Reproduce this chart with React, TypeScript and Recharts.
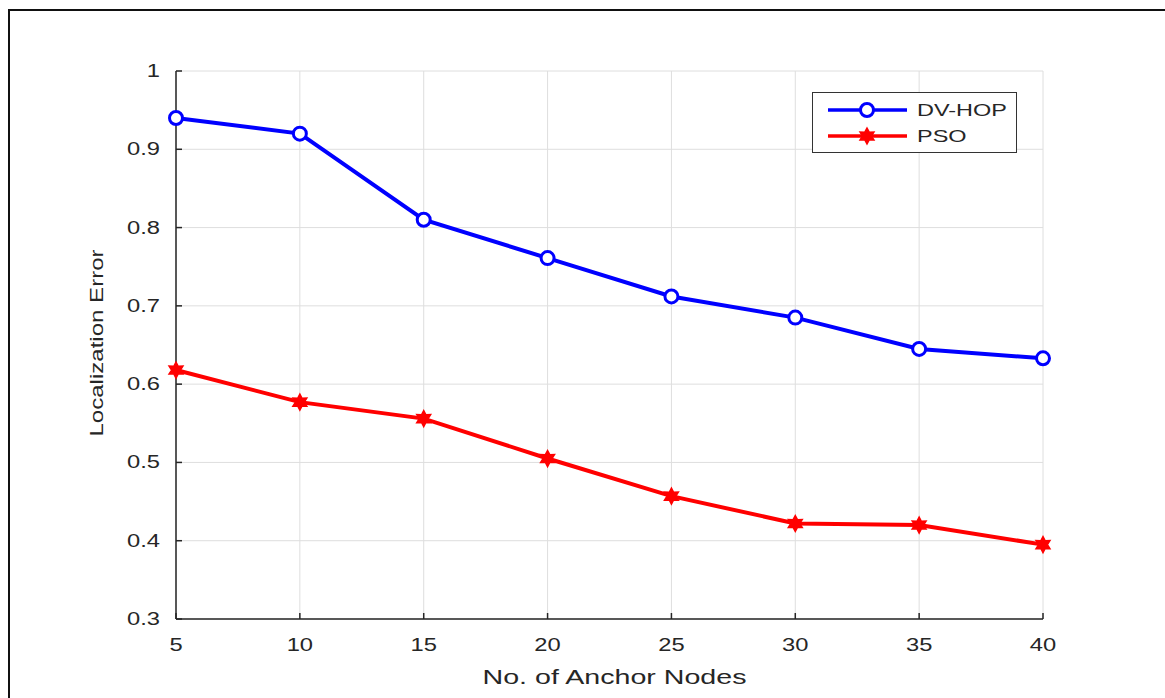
import { CartesianGrid, Label, Line, LineChart, XAxis, YAxis } from 'recharts'

const ANCHOR_NODES = [5, 10, 15, 20, 25, 30, 35, 40]
const DV_HOP = [0.94, 0.92, 0.81, 0.761, 0.712, 0.685, 0.645, 0.633]
const PSO = [0.618, 0.577, 0.556, 0.505, 0.457, 0.422, 0.42, 0.395]
const X_TICKS = [5, 10, 15, 20, 25, 30, 35, 40]
const Y_TICKS = [0.3, 0.4, 0.5, 0.6, 0.7, 0.8, 0.9, 1]

const data = ANCHOR_NODES.map((n, i) => ({ nodes: n, dvhop: DV_HOP[i], pso: PSO[i] }))

const FONT = '"Liberation Sans", Arial, sans-serif'
const TEXT = '#262626'
const STRETCH = 1.32

function hexagram(cx: number, cy: number, r: number) {
  const pts: string[] = []
  for (let i = 0; i < 12; i++) {
    const a = (Math.PI / 6) * i - Math.PI / 2
    const rr = i % 2 === 0 ? r : r * 0.55
    pts.push(`${cx + rr * Math.cos(a)},${cy + rr * Math.sin(a)}`)
  }
  return pts.join(' ')
}

const CircleDot = (props: any) => {
  const { cx, cy } = props
  if (cx == null || cy == null) return null
  return <circle key={`c${cx}`} cx={cx} cy={cy} r={6.5} fill="#fff" stroke="#0000ff" strokeWidth={3} />
}

const StarDot = (props: any) => {
  const { cx, cy } = props
  if (cx == null || cy == null) return null
  return <polygon key={`s${cx}`} points={hexagram(cx, cy, 8)} fill="#ff0000" stroke="#ff0000" strokeWidth={1.5} />
}

const YTick = (props: any) => {
  const { x, y, payload } = props
  const v = payload.value
  const txt = v === 1 ? '1' : v.toFixed(1)
  return (
    <g transform={`translate(${x},${y})`}>
      <text transform={`scale(${STRETCH},1)`} textAnchor="end" dy={6} fontSize={18} fill={TEXT} fontFamily={FONT}>
        {txt}
      </text>
    </g>
  )
}

const XTick = (props: any) => {
  const { x, y, payload } = props
  return (
    <g transform={`translate(${x},${y})`}>
      <text transform={`scale(${STRETCH},1)`} textAnchor="middle" dy={16} fontSize={18} fill={TEXT} fontFamily={FONT}>
        {payload.value}
      </text>
    </g>
  )
}

const XLabel = (props: any) => {
  const vb = props.viewBox || { x: 176, y: 619, width: 867 }
  const cx = vb.x + vb.width / 2 + 5
  return (
    <text x={cx} y={684} textAnchor="middle" fontSize={21} fill={TEXT} fontFamily={FONT} textLength={264} lengthAdjust="spacingAndGlyphs">
      No. of Anchor Nodes
    </text>
  )
}

const YLabel = () => {
  return (
    <text
      x={0}
      y={0}
      transform="translate(103,343) rotate(-90)"
      textAnchor="middle"
      fontSize={19}
      fill={TEXT}
      fontFamily={FONT}
      textLength={187}
      lengthAdjust="spacingAndGlyphs"
    >
      Localization Error
    </text>
  )
}

const LegendBox = () => {
  const rows = [
    { name: 'DV-HOP', color: '#0000ff', star: false },
    { name: 'PSO', color: '#ff0000', star: true },
  ]
  return (
    <div
      style={{
        position: 'absolute',
        left: 812,
        top: 92,
        width: 205,
        height: 61,
        border: '1px solid #333',
        background: '#fff',
        boxSizing: 'border-box',
      }}
    >
      <svg width={203} height={59} style={{ position: 'absolute', left: 0, top: 0 }}>
        {rows.map((r, i) => {
          const cy = 17 + i * 26
          return (
            <g key={r.name}>
              <line x1={15} x2={94} y1={cy} y2={cy} stroke={r.color} strokeWidth={3.5} />
              {r.star ? (
                <polygon points={hexagram(54, cy, 8)} fill={r.color} stroke={r.color} strokeWidth={1.5} />
              ) : (
                <circle cx={54} cy={cy} r={6.5} fill="#fff" stroke={r.color} strokeWidth={3} />
              )}
              <text transform={`translate(104,${cy + 6}) scale(1.38,1)`} fontSize={17} fill={TEXT} fontFamily={FONT}>
                {r.name}
              </text>
            </g>
          )
        })}
      </svg>
    </div>
  )
}

export default function App() {
  return (
    <div style={{ position: 'absolute', left: 0, top: 0, width: 1165, height: 698, background: '#fff', overflow: 'hidden' }}>
      <div
        style={{
          position: 'absolute',
          left: 8,
          top: 9,
          right: -10,
          bottom: -10,
          borderLeft: '2px solid #111',
          borderTop: '2px solid #111',
        }}
      />
      <LineChart width={1165} height={698} data={data} margin={{ top: 71, right: 122, bottom: 29, left: 96 }}>
        <CartesianGrid stroke="#dedede" strokeWidth={1} />
        <XAxis
          dataKey="nodes"
          type="number"
          domain={[5, 40]}
          ticks={X_TICKS}
          height={50}
          stroke="#262626"
          strokeWidth={1.5}
          tickSize={-6}
          tickMargin={22}
          tick={<XTick />}
        >
          <Label content={<XLabel />} />
        </XAxis>
        <YAxis
          type="number"
          domain={[0.3, 1]}
          ticks={Y_TICKS}
          width={80}
          stroke="#262626"
          strokeWidth={1.5}
          tickSize={-6}
          tickMargin={22}
          tick={<YTick />}
        >
          <Label content={<YLabel />} />
        </YAxis>
        <Line
          type="linear"
          dataKey="dvhop"
          name="DV-HOP"
          stroke="#0000ff"
          strokeWidth={4}
          dot={<CircleDot />}
          activeDot={false}
          isAnimationActive={false}
        />
        <Line
          type="linear"
          dataKey="pso"
          name="PSO"
          stroke="#ff0000"
          strokeWidth={4}
          dot={<StarDot />}
          activeDot={false}
          isAnimationActive={false}
        />
      </LineChart>
      <LegendBox />
    </div>
  )
}
